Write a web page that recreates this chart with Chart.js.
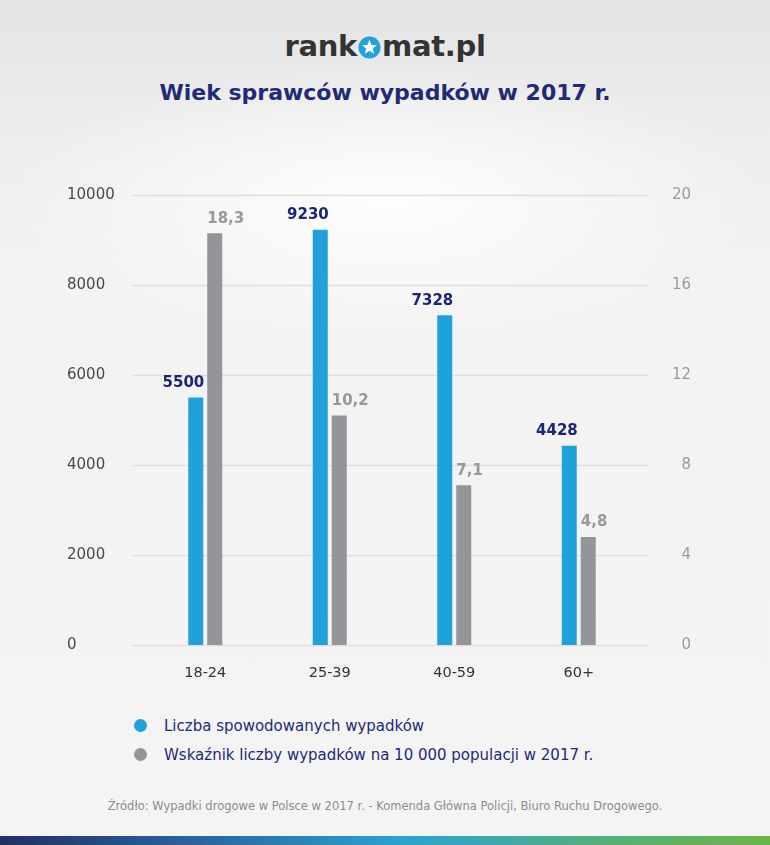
<!DOCTYPE html>
<html lang="pl">
<head>
<meta charset="utf-8">
<script src="https://cdn.jsdelivr.net/npm/chart.js@4"></script>
<style>
  html, body { margin: 0; padding: 0; }
  body {
    width: 770px; height: 845px; position: relative; overflow: hidden;
    font-family: 'DejaVu Sans', sans-serif;
    background:
      radial-gradient(ellipse 380px 140px at 50% 200px, rgba(255,255,255,0.9), rgba(255,255,255,0) 100%),
      linear-gradient(#e4e4e4 0, #eeeeee 150px, #f3f3f3 300px, #f4f4f4 100%);
  }
  .logo {
    position: absolute; top: 29px; left: 0; width: 770px; text-align: center;
    font: bold 29px 'DejaVu Sans', sans-serif; color: #333; letter-spacing: -0.3px;
  }
  .logo svg { vertical-align: -3px; margin: 0 1px; }
  .title {
    position: absolute; top: 80px; left: 0; width: 770px; text-align: center;
    font: bold 22px 'DejaVu Sans', sans-serif; color: #1f2a78;
  }
  .chart-box { position: absolute; left: 0; top: 150px; width: 770px; height: 550px; }
  .legend { position: absolute; left: 134px; top: 715px; color: #1f2a78; font-size: 15px; }
  .legend div { height: 29px; line-height: 22px; }
  .legend span.dot {
    display: inline-block; width: 13px; height: 13px; border-radius: 50%;
    margin-right: 17px; vertical-align: -1px;
  }
  .source {
    position: absolute; top: 799px; left: 0; width: 770px; text-align: center;
    font-size: 11.5px; color: #8c8c8c;
  }
  .bottom-bar {
    position: absolute; left: 0; top: 836px; width: 770px; height: 9px;
    background: linear-gradient(90deg, #222d6b 0%, #2a6fa8 30%, #2aa3d2 52%, #4fae86 75%, #6cb545 100%);
  }
</style>
</head>
<body>
<div class="logo">rank<svg width="23" height="23" viewBox="0 0 24 24"><circle cx="12" cy="12" r="11.5" fill="#23a3dc"/><polygon fill="#fff" points="12,4 14.2,9.3 19.6,9.6 15.4,13.1 16.8,18.4 12,15.5 7.2,18.4 8.6,13.1 4.4,9.6 9.8,9.3"/></svg>mat.pl</div>
<div class="title">Wiek sprawców wypadków w 2017 r.</div>
<div class="chart-box"><canvas id="ageChart"></canvas></div>
<div class="legend">
  <div><span class="dot" style="background:#21a1dc"></span>Liczba spowodowanych wypadków</div>
  <div><span class="dot" style="background:#939598"></span>Wskaźnik liczby wypadków na 10 000 populacji w 2017 r.</div>
</div>
<div class="source">Źródło: Wypadki drogowe w Polsce w 2017 r. - Komenda Główna Policji, Biuro Ruchu Drogowego.</div>
<div class="bottom-bar"></div>

<script>
const categories = ['18-24', '25-39', '40-59', '60+'];
const accidents = [5500, 9230, 7328, 4428];
const ratePer10k = [18.3, 10.2, 7.1, 4.8];
const leftTicks = [0, 2000, 4000, 6000, 8000, 10000];
const rightTicks = [0, 4, 8, 12, 16, 20];

const seriesNames = ['Liczba spowodowanych wypadków', 'Wskaźnik liczby wypadków na 10 000 populacji w 2017 r.'];

// grid lines run a bit past the plot on both sides
const gridPlugin = {
  id: 'wideGrid',
  beforeDatasetsDraw(chart) {
    const { ctx, chartArea, scales } = chart;
    ctx.save();
    ctx.strokeStyle = '#dedede';
    ctx.lineWidth = 1.5;
    leftTicks.forEach(v => {
      const y = Math.round(scales.y.getPixelForValue(v)) + 0.5;
      ctx.beginPath();
      ctx.moveTo(chartArea.left - 11, y);
      ctx.lineTo(chartArea.right + 7, y);
      ctx.stroke();
    });
    ctx.restore();
  }
};

// value labels: blue ones flush right with the bar, grey ones flush left
const valueLabels = {
  id: 'valueLabels',
  afterDatasetsDraw(chart) {
    const { ctx } = chart;
    ctx.save();
    ctx.font = 'bold 15px "DejaVu Sans", sans-serif';
    ctx.textBaseline = 'bottom';
    chart.data.datasets.forEach((ds, di) => {
      chart.getDatasetMeta(di).data.forEach((bar, i) => {
        const v = ds.data[i];
        if (di === 0) {
          ctx.fillStyle = '#1c2673';
          ctx.textAlign = 'right';
          ctx.fillText(String(v), bar.x + bar.width / 2 + 1, bar.y - 7);
        } else {
          ctx.fillStyle = '#98999c';
          ctx.textAlign = 'left';
          ctx.fillText(v.toFixed(1).replace('.', ','), bar.x - bar.width / 2, bar.y - 7);
        }
      });
    });
    ctx.restore();
  }
};

window.onload = () => {
  const ctx = document.getElementById('ageChart').getContext('2d');
  new Chart(ctx, {
    type: 'bar',
    data: {
      labels: categories,
      datasets: [
        {
          label: seriesNames[0],
          data: accidents,
          yAxisID: 'y',
          backgroundColor: '#21a1dc',
          categoryPercentage: 0.305,
          barPercentage: 0.79
        },
        {
          label: seriesNames[1],
          data: ratePer10k,
          yAxisID: 'y2',
          backgroundColor: '#939598',
          categoryPercentage: 0.305,
          barPercentage: 0.79
        }
      ]
    },
    options: {
      responsive: true,
      maintainAspectRatio: false,
      animation: false,
      layout: { padding: { top: 45, left: 67, right: 79, bottom: 0 } },
      plugins: {
        legend: { display: false },
        tooltip: { enabled: false }
      },
      scales: {
        x: {
          grid: { display: false, drawTicks: false },
          border: { display: false },
          ticks: { color: '#333', padding: 20, font: { family: 'DejaVu Sans', size: 14.5 } },
          afterFit: s => { s.height = 55; }
        },
        y: {
          position: 'left',
          min: 0, max: 10000,
          afterBuildTicks: s => { s.ticks = leftTicks.map(v => ({ value: v })); },
          grid: { display: false, drawTicks: false },
          border: { display: false },
          ticks: {
            color: '#4a4a4a', crossAlign: 'far', padding: 0,
            font: { family: 'DejaVu Sans', size: 15 },
            callback: v => String(v)
          },
          afterFit: s => { s.width = 76; }
        },
        y2: {
          position: 'right',
          min: 0, max: 20,
          afterBuildTicks: s => { s.ticks = rightTicks.map(v => ({ value: v })); },
          grid: { display: false, drawTicks: false },
          border: { display: false },
          ticks: {
            color: '#9a9a9a', crossAlign: 'far', padding: 0,
            font: { family: 'DejaVu Sans', size: 15 },
            callback: v => String(v)
          },
          afterFit: s => { s.width = 50; }
        }
      }
    },
    plugins: [gridPlugin, valueLabels]
  });
};
</script>
</body>
</html>
